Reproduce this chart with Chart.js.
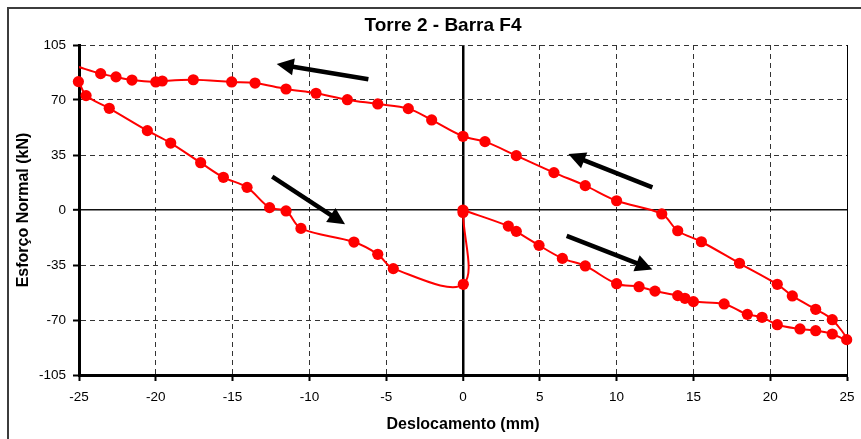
<!DOCTYPE html>
<html>
<head>
<meta charset="utf-8">
<script src="https://cdn.jsdelivr.net/npm/chart.js@4/dist/chart.umd.min.js"></script>
<style>
  html, body { margin: 0; padding: 0; background: #ffffff; overflow: hidden; width: 861px; height: 439px; }
  #frame { position: absolute; left: 7px; top: 7px; width: 900px; height: 470px; border: 2px solid #3c3c3c; box-sizing: border-box; }
  #c { position: absolute; left: 0; top: 0; }
</style>
</head>
<body>
<div id="frame"></div>
<canvas id="c" width="878" height="439"></canvas>
<script>
// ---- Data ----
const chartTitle = "Torre 2 - Barra F4";
const xAxisTitle = "Deslocamento (mm)";
const yAxisTitle = "Esforço Normal (kN)";

const xTicksMin = -25, xTicksMax = 25, xTickStep = 5;
const yTicksMin = -105, yTicksMax = 105, yTickStep = 35;

// Branch 1: loading from 0 to +25 mm (lower right)
const loadRightX = [0, 2.95, 3.47, 4.95, 6.47, 7.96, 10.0, 11.46, 12.5, 13.98, 14.45, 15.0, 17.0, 18.51, 19.47, 20.46, 21.94, 22.96, 24.04, 24.98];
const loadRightY = [0, -10.2, -13.6, -22.5, -30.8, -35.6, -46.9, -48.8, -51.6, -54.5, -56.2, -58.3, -59.8, -66.4, -68.3, -73.0, -75.7, -76.8, -78.9, -82.5];

// Branch 2: from +25 mm back to -25 mm (upper curve)
const upperX = [24.04, 22.96, 21.44, 20.46, 18.0, 15.52, 13.98, 12.94, 10.0, 7.96, 5.92, 3.47, 1.43, 0.0, -2.04, -3.56, -5.55, -7.53, -9.57, -11.52, -13.54, -15.06, -17.56, -19.58, -20.0, -21.55, -22.59, -23.59, -26.1];
const upperY = [-69.8, -63.2, -54.7, -47.3, -33.9, -20.2, -13.2, -2.5, 5.9, 15.5, 23.8, 34.6, 43.5, 46.9, 57.3, 64.5, 67.5, 70.2, 74.3, 77.0, 80.8, 81.5, 82.9, 82.1, 81.5, 82.7, 84.7, 86.8, 93.0];

// Branch 3: from -25 mm back towards 0 (lower left)
const loadLeftX = [-25.04, -24.54, -23.03, -20.55, -19.03, -17.08, -15.6, -14.06, -12.59, -11.52, -10.55, -7.1, -5.55, -4.54, 0.02, 0.0];
const loadLeftY = [81.7, 72.8, 64.7, 50.5, 42.6, 30.1, 20.8, 14.4, 1.5, -0.6, -11.7, -20.4, -28.2, -37.3, -47.3, -1.6];

// Direction arrows (tail -> head), in data units
const arrowTailX = [-6.16, -12.42, 12.33, 6.75];
const arrowTailY = [83.2, 21.2, 14.4, -16.5];
const arrowHeadX = [-12.13, -7.68, 6.86, 12.33];
const arrowHeadY = [92.9, -9.1, 35.6, -37.8];

// ---- Build datasets from the arrays ----
const pathX = loadRightX.concat(upperX, loadLeftX);
const pathY = loadRightY.concat(upperY, loadLeftY);
const pathPts = pathX.map((x, i) => ({ x: x, y: pathY[i] }));
const markerPts = pathPts.filter(p => p.x >= xTicksMin - 0.5 && p.x <= xTicksMax + 0.5);

const FONT = "'Liberation Sans', Arial, Helvetica, sans-serif";

const arrowPlugin = {
  id: 'arrows',
  afterDatasetsDraw(chart) {
    const { ctx, scales: { x, y } } = chart;
    ctx.save();
    ctx.strokeStyle = '#000';
    ctx.fillStyle = '#000';
    for (let i = 0; i < arrowTailX.length; i++) {
      const x1 = x.getPixelForValue(arrowTailX[i]), y1 = y.getPixelForValue(arrowTailY[i]);
      const x2 = x.getPixelForValue(arrowHeadX[i]), y2 = y.getPixelForValue(arrowHeadY[i]);
      const ang = Math.atan2(y2 - y1, x2 - x1);
      const hl = 17, hw = 8.5;
      const bx = x2 - hl * Math.cos(ang), by = y2 - hl * Math.sin(ang);
      ctx.lineWidth = 4.5;
      ctx.lineCap = 'butt';
      ctx.beginPath();
      ctx.moveTo(x1, y1);
      ctx.lineTo(bx + 2 * Math.cos(ang), by + 2 * Math.sin(ang));
      ctx.stroke();
      ctx.beginPath();
      ctx.moveTo(x2, y2);
      ctx.lineTo(bx + hw * Math.sin(ang), by - hw * Math.cos(ang));
      ctx.lineTo(bx - hw * Math.sin(ang), by + hw * Math.cos(ang));
      ctx.closePath();
      ctx.fill();
    }
    ctx.restore();
  }
};

const rightEdgePlugin = {
  id: 'rightEdge',
  beforeDatasetsDraw(chart) {
    const { ctx, chartArea: a } = chart;
    ctx.save();
    ctx.strokeStyle = '#000';
    ctx.lineWidth = 1;
    ctx.beginPath();
    ctx.moveTo(Math.round(a.right) + 0.5, a.top);
    ctx.lineTo(Math.round(a.right) + 0.5, a.bottom);
    ctx.stroke();
    ctx.restore();
  }
};

new Chart(document.getElementById('c'), {
  type: 'scatter',
  data: {
    datasets: [
      {
        data: pathPts,
        showLine: true,
        borderColor: '#ff0000',
        borderWidth: 2,
        tension: 0.35,
        pointRadius: 0,
        pointHoverRadius: 0,
        fill: false,
        order: 2
      },
      {
        data: markerPts,
        showLine: false,
        pointRadius: 5.6,
        pointBorderWidth: 0,
        pointBackgroundColor: '#ff0000',
        pointBorderColor: '#ff0000',
        clip: false,
        order: 1
      }
    ]
  },
  options: {
    responsive: false,
    animation: false,
    devicePixelRatio: 1,
    layout: { padding: { left: 8, top: 8, right: 0, bottom: 0 } },
    elements: { line: { capBezierPoints: false } },
    plugins: {
      legend: { display: false },
      tooltip: { enabled: false },
      title: {
        display: true,
        text: chartTitle,
        color: '#000',
        font: { family: FONT, size: 19, weight: 'bold' },
        padding: { top: 6.6, bottom: 7.6 }
      }
    },
    scales: {
      x: {
        type: 'linear',
        min: xTicksMin, max: xTicksMax,
        afterFit(s) { s.height = 64; },
        ticks: {
          stepSize: xTickStep,
          color: '#000',
          font: { family: FONT, size: 13.5 },
          padding: 8,
          maxRotation: 0
        },
        grid: {
          color: c => (c.tick && c.tick.value === 0) ? '#000' : ((c.tick && c.tick.value === xTicksMax) ? '#000' : '#333'),
          lineWidth: c => (c.tick && c.tick.value === 0) ? 2.5 : 1,
          tickLength: 6,
          tickColor: '#000',
          tickWidth: 2
        },
        border: {
          display: true, color: '#000', width: 3,
          dash: c => (c.tick && (c.tick.value === 0 || c.tick.value === xTicksMax)) ? [] : [5, 4]
        },
        title: {
          display: true, text: xAxisTitle, color: '#000',
          font: { family: FONT, size: 16, weight: 'bold' },
          padding: { top: 0, bottom: 4.4 }
        }
      },
      y: {
        type: 'linear',
        position: 'left',
        min: yTicksMin, max: yTicksMax,
        afterFit(s) { s.width = 71; },
        ticks: {
          stepSize: yTickStep,
          color: '#000',
          font: { family: FONT, size: 13.5 },
          padding: 7
        },
        grid: {
          color: c => (c.tick && c.tick.value === 0) ? '#111' : '#333',
          lineWidth: c => (c.tick && c.tick.value === 0) ? 1.6 : 1,
          tickLength: 6,
          tickColor: '#000',
          tickWidth: 2
        },
        border: {
          display: true, color: '#000', width: 3,
          dash: c => (c.tick && c.tick.value === 0) ? [] : [5, 4]
        },
        title: {
          display: true, text: yAxisTitle, color: '#000',
          font: { family: FONT, size: 16, weight: 'bold' },
          padding: { top: 6.4, bottom: 0 }
        }
      },
      y2: {
        type: 'linear',
        position: 'right',
        display: true,
        afterFit(s) { s.width = 31; },
        ticks: { display: false },
        grid: { display: false, drawTicks: false },
        border: { display: false }
      }
    }
  },
  plugins: [rightEdgePlugin, arrowPlugin]
});
</script>
</body>
</html>
